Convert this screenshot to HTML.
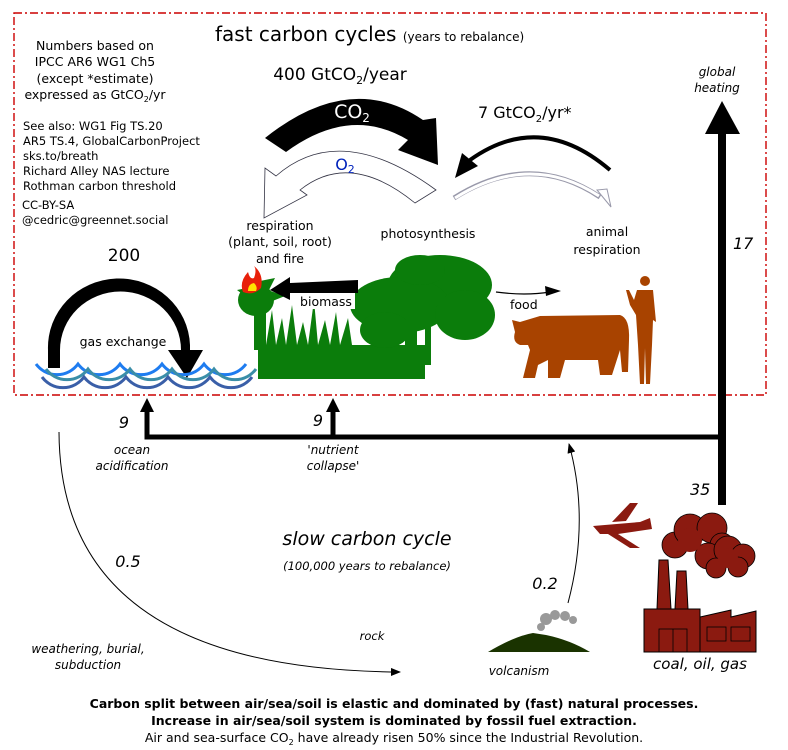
<!DOCTYPE html>
<html><head><meta charset="utf-8"><style>
html,body{margin:0;padding:0;background:#fff;}
svg{display:block;font-family:"DejaVu Sans","Liberation Sans",sans-serif;}
.i{font-style:italic}
</style></head><body>
<svg width="788" height="750" viewBox="0 0 788 750" xmlns="http://www.w3.org/2000/svg">
<defs>
<marker id="ah" markerWidth="10" markerHeight="8" refX="9" refY="4" orient="auto" markerUnits="userSpaceOnUse"><path d="M0,0 L10,4 L0,8 z" fill="#000"/></marker>
</defs>
<rect x="14" y="13" width="752" height="382" fill="none" stroke="#c00" stroke-width="1.4" stroke-dasharray="8,3,2,3"/>

<text x="215" y="41" font-size="20">fast carbon cycles <tspan font-size="12">(years to rebalance)</tspan></text>

<g font-size="12.5" text-anchor="middle">
<text x="95" y="50">Numbers based on</text>
<text x="95" y="66">IPCC AR6 WG1 Ch5</text>
<text x="95" y="83">(except *estimate)</text>
<text x="95" y="99">expressed as GtCO<tspan font-size="8" dy="3">2</tspan><tspan dy="-3">/yr</tspan></text>
</g>
<g font-size="11.5">
<text x="23" y="130">See also: WG1 Fig TS.20</text>
<text x="23" y="145">AR5 TS.4, GlobalCarbonProject</text>
<text x="23" y="160">sks.to/breath</text>
<text x="23" y="175">Richard Alley NAS lecture</text>
<text x="23" y="190">Rothman carbon threshold</text>
<text x="22" y="209">CC-BY-SA</text>
<text x="22" y="224">@cedric@greennet.social</text>
</g>

<text x="340" y="80" font-size="17" text-anchor="middle">400 GtCO<tspan font-size="11" dy="4">2</tspan><tspan dy="-4">/year</tspan></text>

<path d="M265,138 Q350,70 423,120 L436,118 L438,165 L398,150 L408,140 Q350,105 286,152 z" fill="#000"/>
<text x="352" y="118" font-size="19" fill="#fff" text-anchor="middle">CO<tspan font-size="12" dy="4">2</tspan></text>
<path d="M436,190 Q340,120 276,176 L265,168 L264,218 L307,195 L300,190 Q350,150 415,203 z" fill="#fff" stroke="#334" stroke-width="0.8"/>
<text x="345" y="170" font-size="16" fill="#0022bb" text-anchor="middle">O<tspan font-size="11" dy="3">2</tspan></text>

<text x="478" y="118" font-size="16">7 GtCO<tspan font-size="10" dy="4">2</tspan><tspan dy="-4">/yr*</tspan></text>
<path d="M610,170 Q540,110 470,160" fill="none" stroke="#000" stroke-width="4"/>
<path d="M455,178 L462,153 L478,166 z" fill="#000"/>
<path d="M454,198 Q530,150 600,197" fill="none" stroke="#99a" stroke-width="5"/>
<path d="M455,198 Q530,151 599,196" fill="none" stroke="#fff" stroke-width="3"/>
<path d="M611,207 L597,190 L607,189 z" fill="#fff" stroke="#99a" stroke-width="1"/>

<g font-size="12.5" text-anchor="middle">
<text x="280" y="230">respiration</text>
<text x="280" y="246">(plant, soil, root)</text>
<text x="280" y="263">and fire</text>
<text x="428" y="238">photosynthesis</text>
<text x="607" y="236">animal</text>
<text x="607" y="254">respiration</text>
</g>

<text x="124" y="261" font-size="17" text-anchor="middle">200</text>
<path d="M48,368 L48,350 A70,68 0 0 1 190,345 L190,350 L203,350 L187,378 L168,350 L181,350 A60,58 0 0 0 60,350 L60,368 z" fill="#000"/>
<text x="123" y="346" font-size="12.5" text-anchor="middle">gas exchange</text>
<!-- waves (scallops) -->
<path d="M36,364 a26,26 0 0 0 42,0 a26,26 0 0 0 42,0 a26,26 0 0 0 42,0 a26,26 0 0 0 42,0 a26,26 0 0 0 42,0" fill="none" stroke="#1e7cf0" stroke-width="3"/>
<path d="M46,369 a26,26 0 0 0 42,0 a26,26 0 0 0 42,0 a26,26 0 0 0 42,0 a26,26 0 0 0 42,0 a26,26 0 0 0 42,0" fill="none" stroke="#3a8ea8" stroke-width="3"/>
<path d="M42,377 a26,26 0 0 0 42,0 a26,26 0 0 0 42,0 a26,26 0 0 0 42,0 a26,26 0 0 0 42,0 a26,26 0 0 0 42,0" fill="none" stroke="#3a5fa8" stroke-width="3"/>

<!-- vegetation -->
<g fill="#0b7d0b">
<rect x="258" y="345" width="167" height="34"/>
<path d="M258,345 L262,300 L266,345 L272,310 L276,345 L282,318 L286,345 L292,305 L297,345 L303,322 L308,345 L314,300 L318,345 L325,320 L330,345 L336,312 L340,345 L348,318 L352,345 Z"/>
<path d="M237,290 L262,285 L250,300 Z M240,305 L262,292 L268,310 Z M262,288 L285,296 L270,302 Z M255,282 L275,278 L268,292 Z"/>
<ellipse cx="256" cy="300" rx="18" ry="16"/>
<rect x="254" y="300" width="12" height="50"/>
<ellipse cx="440" cy="285" rx="52" ry="30"/>
<ellipse cx="400" cy="305" rx="50" ry="28"/>
<ellipse cx="465" cy="315" rx="30" ry="25"/>
<ellipse cx="420" cy="270" rx="25" ry="15"/>
<ellipse cx="385" cy="330" rx="25" ry="18"/>
<rect x="405" y="320" width="12" height="45"/>
<rect x="425" y="325" width="6" height="40"/>
</g>
<path d="M243,292 q-4,-10 5,-20 q2,8 6,6 q3,-8 0,-12 q10,8 7,22 q-8,8 -18,4z" fill="#e8200a"/>
<path d="M248,291 q0,-7 6,-8 q4,4 2,8z" fill="#ffe400"/>

<path d="M358,280 L290,283 L290,277 L270,290 L290,300 L290,293 L358,293 z" fill="#000"/>
<rect x="300" y="293" width="55" height="16" fill="#fff"/>
<text x="326" y="306" font-size="12.5" text-anchor="middle">biomass</text>
<path d="M496,292 Q525,296 550,292" fill="none" stroke="#000" stroke-width="1.2"/>
<path d="M561,291 L545,286 L546,296 z" fill="#000"/>
<text x="510" y="309" font-size="12.5">food</text>

<g fill="#a84300">
<path d="M512,320 L520,322 L540,316 L620,315 Q630,318 629,340 L628,372 L622,372 L620,350 L612,375 L600,375 L598,360 L565,360 L560,378 L548,378 L548,360 L538,365 L535,378 L523,378 L530,350 L528,345 L520,345 Q512,342 515,332 Z"/>
<circle cx="645" cy="281" r="5"/>
<path d="M637,290 L653,290 L656,322 L653,320 L652,345 L650,384 L646,384 L645,348 L644,384 L640,384 L638,345 L636,315 L630,305 L626,290 L629,290 L634,300 Z"/>
</g>

<rect x="718" y="130" width="8" height="375" fill="#000"/>
<path d="M705,134 L722,101 L740,134 z" fill="#000"/>
<text x="717" y="76" font-size="12" class="i" text-anchor="middle">global</text>
<text x="717" y="92" font-size="12" class="i" text-anchor="middle">heating</text>
<text x="733" y="249" font-size="16" class="i">17</text>
<text x="690" y="495" font-size="16" class="i">35</text>

<path d="M722,437 L147,437 L147,410" fill="none" stroke="#000" stroke-width="5"/>
<path d="M333,437 L333,410" stroke="#000" stroke-width="5"/>
<path d="M140,412 L147,398 L154,412 z" fill="#000"/>
<path d="M326,412 L333,398 L340,412 z" fill="#000"/>
<text x="124" y="428" font-size="16" class="i" text-anchor="middle">9</text>
<text x="318" y="426" font-size="16" class="i" text-anchor="middle">9</text>
<g font-size="12" class="i" text-anchor="middle">
<text x="132" y="454">ocean</text>
<text x="132" y="470">acidification</text>
<text x="333" y="454">'nutrient</text>
<text x="333" y="470">collapse'</text>
</g>

<text x="367" y="545" font-size="19" class="i" text-anchor="middle">slow carbon cycle</text>
<text x="367" y="570" font-size="11.5" class="i" text-anchor="middle">(100,000 years to rebalance)</text>
<text x="128" y="567" font-size="16" class="i" text-anchor="middle">0.5</text>
<path d="M59,432 Q60,670 400,672" fill="none" stroke="#000" stroke-width="1" marker-end="url(#ah)"/>
<text x="372" y="640" font-size="11.5" class="i" text-anchor="middle">rock</text>
<text x="88" y="653" font-size="12" class="i" text-anchor="middle">weathering, burial,</text>
<text x="88" y="669" font-size="12" class="i" text-anchor="middle">subduction</text>

<text x="545" y="589" font-size="16" class="i" text-anchor="middle">0.2</text>
<path d="M568,603 Q590,520 569,444" fill="none" stroke="#000" stroke-width="1" marker-end="url(#ah)"/>
<path d="M488,652 Q515,636 533,633 L546,635 Q570,640 590,652 z" fill="#1a3300"/>
<g fill="#999"><circle cx="541" cy="627" r="4"/><circle cx="546" cy="619" r="6"/><circle cx="555" cy="615" r="5"/><circle cx="565" cy="616" r="5"/><circle cx="573" cy="620" r="4"/></g>
<text x="519" y="675" font-size="12" class="i" text-anchor="middle">volcanism</text>

<path d="M593,526 L640,522 L650,518 L652,529 L618,534 L640,548 L630,548 L608,534 L600,534 Z M612,522 L630,503 L638,503 L626,521 Z" fill="#8b1a10"/>
<g fill="#8b1a10" stroke="#000" stroke-width="0.8">
<circle cx="675" cy="545" r="13"/><circle cx="690" cy="530" r="16"/><circle cx="712" cy="528" r="15"/><circle cx="722" cy="545" r="12"/>
<circle cx="708" cy="556" r="13"/><circle cx="728" cy="550" r="14"/><circle cx="743" cy="556" r="12"/><circle cx="738" cy="567" r="10"/><circle cx="716" cy="568" r="10"/>
</g>
<g fill="#8b1a10" stroke="none">
<circle cx="690" cy="540" r="12"/><circle cx="728" cy="558" r="10"/>
</g>
<g fill="#8b1a10" stroke="#000" stroke-width="1">
<path d="M657,609 L659,560 L668,560 L671,609 z"/>
<path d="M675,609 L677,571 L686,571 L688,609 z"/>
<path d="M644,609 L700,609 L700,652 L644,652 z"/>
<path d="M700,652 L700,617 L731,610 L731,617 L756,611 L756,652 z"/>
</g>
<g fill="none" stroke="#000" stroke-width="0.8">
<rect x="659" y="629" width="28" height="23"/><line x1="673" y1="629" x2="673" y2="652"/>
<rect x="707" y="627" width="19" height="14"/><rect x="731" y="627" width="19" height="14"/>
</g>
<text x="700" y="669" font-size="15" class="i" text-anchor="middle">coal, oil, gas</text>

<g font-size="12.5" text-anchor="middle">
<text x="394" y="708" font-weight="bold">Carbon split between air/sea/soil is elastic and dominated by (fast) natural processes.</text>
<text x="394" y="725" font-weight="bold">Increase in air/sea/soil system is dominated by fossil fuel extraction.</text>
<text x="394" y="742">Air and sea-surface CO<tspan font-size="8" dy="3">2</tspan><tspan dy="-3"> have already risen 50% since the Industrial Revolution.</tspan></text>
</g>
</svg>
</body></html>
